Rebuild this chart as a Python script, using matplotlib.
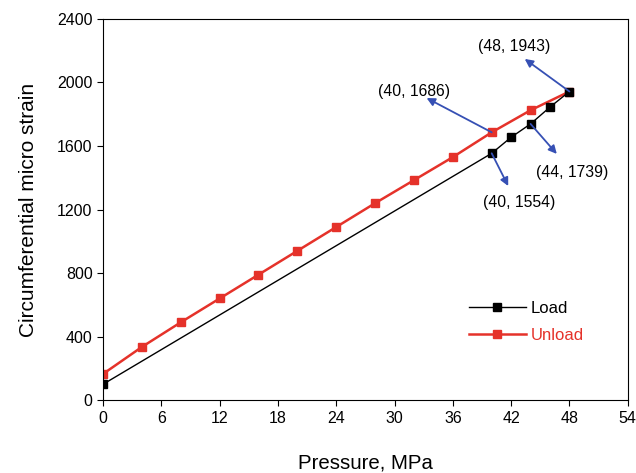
import matplotlib

matplotlib.use("Agg")
import matplotlib.pyplot as plt

plt.rcParams["font.family"] = ["Liberation Sans", "DejaVu Sans"]

# Load path: markers only at the start and near the top
load_p = [0, 40, 42, 44, 46, 48]
load_s = [100, 1554, 1655, 1739, 1845, 1943]

# Unload path
unload_p = [0, 4, 8, 12, 16, 20, 24, 28, 32, 36, 40, 44, 48]
unload_s = [165, 335, 490, 640, 790, 940, 1090, 1240, 1385, 1530, 1686, 1825, 1943]

# (point, arrow tip, text position)
notes = [
    ((48, 1943), (43.4, 2148), (42.3, 2228)),
    ((40, 1686), (33.3, 1902), (32.0, 1942)),
    ((40, 1554), (41.7, 1348), (42.8, 1245)),
    ((44, 1739), (46.7, 1550), (48.3, 1435)),
]

RED = "#e5322a"
BLUE = "#3650b4"

fig = plt.figure(figsize=(6.36, 4.73), dpi=100)
ax = fig.add_axes([0.162, 0.154, 0.825, 0.806])

ax.plot(load_p, load_s, color="black", lw=1.0, marker="s", ms=6,
        label="Load", zorder=3)
ax.plot(unload_p, unload_s, color=RED, lw=1.8, marker="s", ms=6,
        mec=RED, label="Unload", zorder=2)

for (px, py), (tx, ty), (lx, ly) in notes:
    ax.annotate("", xy=(tx, ty), xytext=(px, py),
                arrowprops=dict(arrowstyle="-|>", color=BLUE, lw=1.3,
                                mutation_scale=12, shrinkA=0, shrinkB=0))
    ax.text(lx, ly, f"({px}, {py})", ha="center", va="center", fontsize=11.3)

ax.set_xlim(0, 54)
ax.set_ylim(0, 2400)
ax.set_xticks(range(0, 55, 6))
ax.set_yticks(range(0, 2401, 400))
ax.tick_params(direction="out", labelsize=11.5, length=4)
ax.set_xlabel("Pressure, MPa", fontsize=14.7, labelpad=20)
ax.set_ylabel("Circumferential micro strain", fontsize=15, labelpad=14)

leg = ax.legend(loc="center left", bbox_to_anchor=(0.685, 0.205), frameon=False,
                fontsize=12, numpoints=1, handlelength=3.4, handletextpad=0.3,
                labelspacing=0.75, borderaxespad=0)
for txt, line in zip(leg.get_texts(), leg.get_lines()):
    txt.set_color(line.get_color())

fig.savefig("out.png", dpi=100)
